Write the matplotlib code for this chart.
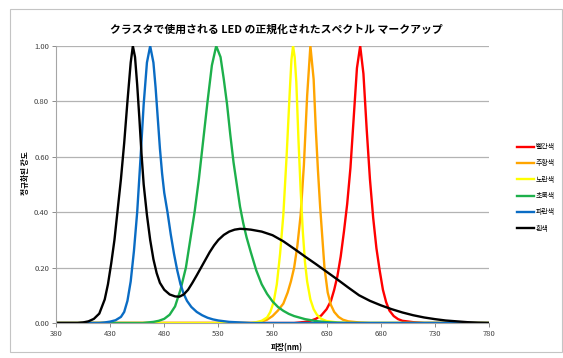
import matplotlib
matplotlib.use("Agg")
import matplotlib.pyplot as plt
from matplotlib.patches import Rectangle

plt.rcParams['font.family'] = ['Noto Sans CJK KR', 'DejaVu Sans']

# ---- spectra (normalised intensity vs wavelength in nm) ----
red_wl = [380, 600, 610, 615, 620, 625, 630, 634, 637, 640, 643, 646, 649, 652, 655, 658,
          661, 664, 667, 670, 673, 676, 679, 682, 685, 688, 692, 696, 700, 710, 720, 780]
red_val = [0, 0, 0.004, 0.008, 0.015, 0.027, 0.05, 0.08, 0.12, 0.17, 0.24, 0.33, 0.43, 0.56, 0.74, 0.92,
           1.0, 0.9, 0.7, 0.52, 0.38, 0.27, 0.19, 0.12, 0.075, 0.045, 0.025, 0.014, 0.008, 0.003, 0, 0]

orange_wl = [380, 565, 570, 575, 580, 585, 590, 594, 597, 600, 603, 606, 609, 612, 615, 618,
             620, 622, 624, 626, 628, 631, 634, 637, 641, 645, 650, 660, 670, 780]
orange_val = [0, 0, 0.005, 0.012, 0.025, 0.045, 0.07, 0.11, 0.15, 0.2, 0.28, 0.39, 0.57, 0.82, 1.0, 0.88,
              0.7, 0.55, 0.42, 0.31, 0.2, 0.11, 0.065, 0.04, 0.022, 0.012, 0.006, 0.002, 0, 0]

yellow_wl = [380, 560, 565, 570, 575, 578, 581, 584, 587, 590, 593, 596, 597.5, 599, 600.5, 602,
             604, 606, 608, 610, 612, 615, 618, 621, 625, 630, 640, 650, 780]
yellow_val = [0, 0, 0.003, 0.008, 0.02, 0.04, 0.075, 0.14, 0.25, 0.39, 0.6, 0.84, 0.95, 1.0, 0.96, 0.87,
              0.66, 0.48, 0.33, 0.22, 0.15, 0.085, 0.05, 0.03, 0.015, 0.007, 0.002, 0, 0]

green_wl = [380, 460, 470, 475, 480, 485, 490, 495, 500, 504, 508, 512, 516, 520, 524, 528,
            532, 535, 538, 541, 544, 547, 550, 553, 556, 560, 565, 570, 575, 580, 585, 590,
            595, 600, 610, 620, 630, 640, 650, 780]
green_val = [0, 0, 0.004, 0.008, 0.015, 0.03, 0.06, 0.12, 0.2, 0.3, 0.4, 0.52, 0.66, 0.8, 0.93, 1.0,
             0.96, 0.88, 0.79, 0.68, 0.58, 0.5, 0.42, 0.36, 0.31, 0.255, 0.19, 0.14, 0.105, 0.078, 0.058, 0.044,
             0.033, 0.025, 0.014, 0.007, 0.003, 0.001, 0, 0]

blue_wl = [380, 420, 425, 430, 435, 440, 443, 446, 449, 452, 455, 458, 461, 464, 467, 470,
           472, 474, 476, 478, 480, 483, 486, 489, 492, 495, 498, 501, 505, 510, 515, 520,
           525, 530, 540, 550, 560, 780]
blue_val = [0, 0, 0.002, 0.005, 0.01, 0.022, 0.04, 0.08, 0.15, 0.26, 0.4, 0.59, 0.79, 0.94, 1.0, 0.94,
            0.85, 0.74, 0.63, 0.54, 0.47, 0.4, 0.32, 0.25, 0.19, 0.14, 0.105, 0.08, 0.058, 0.04, 0.028, 0.019,
            0.013, 0.009, 0.004, 0.002, 0, 0]

white_wl = [380, 400, 405, 410, 415, 420, 425, 428, 431, 434, 437, 440, 443, 446, 449, 451,
            453, 455, 457, 459, 461, 464, 467, 470, 473, 476, 480, 485, 490, 494, 498, 502,
            506, 510, 514, 518, 522, 526, 530, 535, 540, 545, 550, 555, 560, 570, 580, 590,
            600, 610, 620, 630, 640, 650, 660, 670, 680, 690, 700, 710, 720, 730, 740, 750,
            760, 770, 780]
white_val = [0, 0, 0.002, 0.006, 0.015, 0.034, 0.085, 0.14, 0.215, 0.3, 0.41, 0.52, 0.65, 0.8, 0.94, 1.0,
             0.96, 0.86, 0.74, 0.61, 0.5, 0.39, 0.3, 0.23, 0.18, 0.145, 0.12, 0.103, 0.096, 0.095, 0.103, 0.12,
             0.145, 0.172, 0.2, 0.228, 0.256, 0.28, 0.3, 0.318, 0.33, 0.337, 0.34, 0.339, 0.337, 0.33, 0.317, 0.295,
             0.268, 0.24, 0.213, 0.185, 0.157, 0.128, 0.1, 0.08, 0.064, 0.05, 0.038, 0.028, 0.02, 0.014, 0.009, 0.006,
             0.003, 0.001, 0]

series_names = ['빨간색', '주황색', '노란색', '초록색', '파란색', '흰색']
series_colors = ['#FF0000', '#FFA500', '#FFFF00', '#1DB04B', '#0A6CC4', '#000000']

x_ticks = [380, 430, 480, 530, 580, 630, 680, 730, 780]
y_ticks = [0.0, 0.2, 0.4, 0.6, 0.8, 1.0]

title = 'クラスタで使用される LED の正規化されたスペクトル マークアップ'
x_label = '파장(nm)'
y_label = '정규화된 강도'

W, H = 563, 358
fig = plt.figure(figsize=(W / 100, H / 100), dpi=100)

# outer chart frame
fig.patches.append(Rectangle((10 / W, 6 / H), 552 / W, 343 / H, transform=fig.transFigure,
                             fill=False, edgecolor='#C4C4C4', linewidth=0.8))

ax = fig.add_axes([56 / W, 35 / H, 433 / W, 277 / H])

data = [(red_wl, red_val), (orange_wl, orange_val), (yellow_wl, yellow_val),
        (green_wl, green_val), (blue_wl, blue_val), (white_wl, white_val)]
for (wl, val), name, col in zip(data, series_names, series_colors):
    ax.plot(wl, val, color=col, linewidth=1.7, label=name, solid_joinstyle='round')

ax.set_xlim(380, 780)
ax.set_ylim(0, 1.0)
ax.set_xticks(x_ticks)
ax.set_yticks(y_ticks)
ax.set_xticklabels([str(t) for t in x_ticks])
ax.set_yticklabels([f'{t:.2f}' for t in y_ticks])
ax.tick_params(axis='both', labelsize=5.5, colors='#8C8C8C', labelcolor='#404040',
               length=3, width=0.7, pad=2)
ax.grid(axis='y', color='#B3B3B3', linewidth=0.9)
ax.set_axisbelow(True)
for side in ['top', 'right']:
    ax.spines[side].set_visible(False)
for side in ['left', 'bottom']:
    ax.spines[side].set_color('#A6A6A6')
    ax.spines[side].set_linewidth(0.8)

fig.text(276.5 / W, 1 - 30 / H, title, ha='center', va='center', fontsize=7.8, fontweight='bold')
fig.text(287 / W, 1 - 348 / H, x_label, ha='center', va='center', fontsize=5.5, fontweight='bold')
fig.text(25.5 / W, 1 - 173 / H, y_label, ha='center', va='center', fontsize=5.5,
         fontweight='bold', rotation=90)

fig.legend(loc='upper left', bbox_to_anchor=(517 / W, 1 - 143 / H), frameon=False,
           fontsize=5, handlelength=2.4, handletextpad=0.3, labelspacing=1.2,
           borderpad=0, borderaxespad=0)

fig.savefig('out.png', dpi=100)
